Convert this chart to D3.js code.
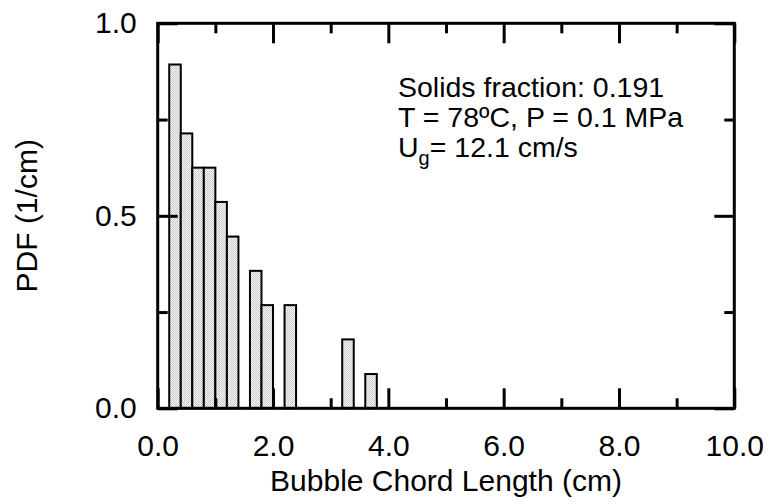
<!DOCTYPE html>
<html>
<head>
<meta charset="utf-8">
<script src="https://cdn.jsdelivr.net/npm/d3@7"></script>
<style>
  html, body { margin: 0; padding: 0; background: #fff; }
  svg { display: block; }
  text { font-family: "Liberation Sans", Arial, Helvetica, sans-serif; fill: #000; }
</style>
</head>
<body>
<svg id="chart" width="770" height="504"></svg>
<script>
// ---- data ----
const binStarts = [0.2, 0.4, 0.6, 0.8, 1.0, 1.2, 1.6, 1.8, 2.2, 3.2, 3.6];
const pdfValues = [0.893, 0.714, 0.625, 0.625, 0.536, 0.446, 0.357, 0.268, 0.268, 0.179, 0.089];
const binWidth = 0.2;
const xMajorTicks = [0, 2, 4, 6, 8, 10];
const xMinorTicks = [1, 3, 5, 7, 9];
const yMajorTicks = [0, 0.5, 1.0];
const yMinorTicks = [0.25, 0.75];
const xTitle = "Bubble Chord Length (cm)";
const yTitle = "PDF (1/cm)";
const noteLines = ["Solids fraction: 0.191", "T = 78ºC, P = 0.1 MPa"];

// ---- layout ----
const svg = d3.select("#chart");
const L = 157.7, R = 734.3, T = 23.3, B = 408.3;
const x = d3.scaleLinear().domain([0, 10]).range([L, R]);
const y = d3.scaleLinear().domain([0, 1]).range([B, T]);

// pattern fill
const defs = svg.append("defs");
const pat = defs.append("pattern").attr("id", "dots")
  .attr("width", 2).attr("height", 2).attr("patternUnits", "userSpaceOnUse");
pat.append("rect").attr("width", 2).attr("height", 2).attr("fill", "#f3f3f3");
pat.append("rect").attr("x", 0).attr("y", 0).attr("width", 1).attr("height", 1).attr("fill", "#cdcdcd");
pat.append("rect").attr("x", 1).attr("y", 1).attr("width", 1).attr("height", 1).attr("fill", "#cdcdcd");

// bars
const data = binStarts.map((b, i) => ({ b, v: pdfValues[i] }));
svg.append("g").selectAll("rect").data(data).join("rect")
  .attr("x", d => x(d.b))
  .attr("width", d => x(d.b + binWidth) - x(d.b))
  .attr("y", d => y(d.v))
  .attr("height", d => y(0) - y(d.v))
  .attr("fill", "url(#dots)")
  .attr("stroke", "#000")
  .attr("stroke-width", 2);

function styleAxis(g) {
  g.select(".domain").remove();
  g.selectAll(".tick line").attr("stroke", "#000").attr("stroke-width", 3);
  g.selectAll(".tick text").style("font-size", "30px").attr("fill", "#000");
}

const fmt = d3.format(".1f");

// bottom
svg.append("g").attr("transform", `translate(0,${B})`)
  .call(d3.axisBottom(x).tickValues(xMajorTicks).tickSize(-20).tickPadding(26).tickFormat(fmt))
  .call(styleAxis);
svg.append("g").attr("transform", `translate(0,${B})`)
  .call(d3.axisBottom(x).tickValues(xMinorTicks).tickSize(-10).tickFormat(""))
  .call(styleAxis);
// top
svg.append("g").attr("transform", `translate(0,${T})`)
  .call(d3.axisTop(x).tickValues(xMajorTicks).tickSize(-20).tickFormat(""))
  .call(styleAxis);
svg.append("g").attr("transform", `translate(0,${T})`)
  .call(d3.axisTop(x).tickValues(xMinorTicks).tickSize(-10).tickFormat(""))
  .call(styleAxis);
// left
svg.append("g").attr("transform", `translate(${L},0)`)
  .call(d3.axisLeft(y).tickValues(yMajorTicks).tickSize(-20).tickPadding(21).tickFormat(fmt))
  .call(styleAxis);
svg.append("g").attr("transform", `translate(${L},0)`)
  .call(d3.axisLeft(y).tickValues(yMinorTicks).tickSize(-10).tickFormat(""))
  .call(styleAxis);
// right
svg.append("g").attr("transform", `translate(${R},0)`)
  .call(d3.axisRight(y).tickValues(yMajorTicks).tickSize(-20).tickFormat(""))
  .call(styleAxis);
svg.append("g").attr("transform", `translate(${R},0)`)
  .call(d3.axisRight(y).tickValues(yMinorTicks).tickSize(-10).tickFormat(""))
  .call(styleAxis);

// frame
svg.append("rect")
  .attr("x", L).attr("y", T).attr("width", R - L).attr("height", B - T)
  .attr("fill", "none").attr("stroke", "#000").attr("stroke-width", 3);

// titles
svg.append("text")
  .attr("x", (L + R) / 2).attr("y", 491)
  .attr("text-anchor", "middle").style("font-size", "30px")
  .text(xTitle);
svg.append("text")
  .attr("transform", `translate(36.5,${(T + B) / 2}) rotate(-90)`)
  .attr("text-anchor", "middle").style("font-size", "30px")
  .text(yTitle);

// annotation
const note = svg.append("g").style("font-size", "28.5px");
noteLines.forEach((s, i) => {
  note.append("text").attr("x", 398).attr("y", 96.7 + i * 30).text(s);
});
const ug = note.append("text").attr("x", 398).attr("y", 156.7);
ug.append("tspan").text("U");
ug.append("tspan").attr("dy", 8).style("font-size", "20px").text("g");
ug.append("tspan").attr("dy", -8).text("= 12.1 cm/s");
</script>
</body>
</html>
